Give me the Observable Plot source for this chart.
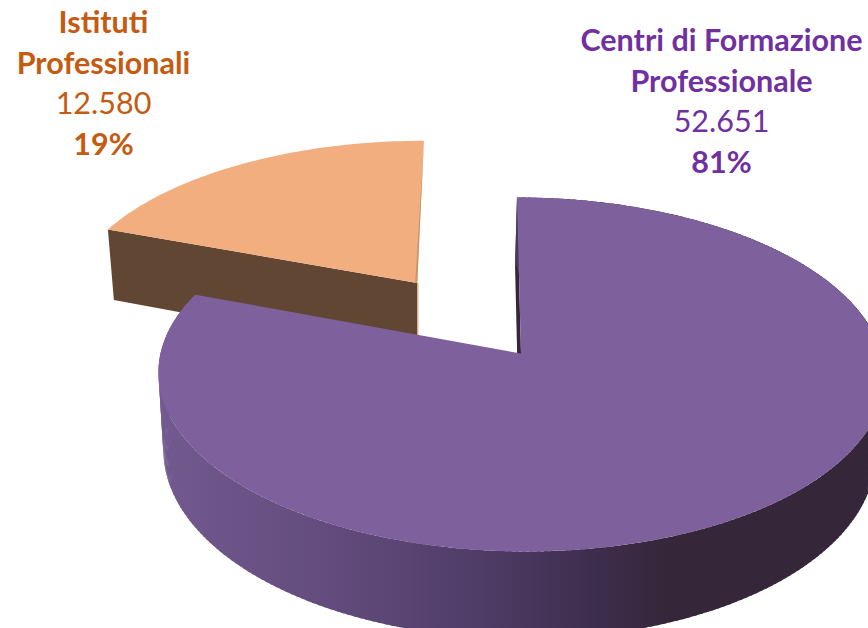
<!DOCTYPE html>
<html>
<head>
<meta charset="utf-8">
<script src="https://cdn.jsdelivr.net/npm/d3@7"></script>
<script src="https://cdn.jsdelivr.net/npm/@observablehq/plot@0.6"></script>
<style>
html,body{margin:0;padding:0;background:#fff;overflow:hidden}
svg{display:block}
</style>
</head>
<body>
<div id="chart"></div>
<script>
// DATA
const categories = ["Istituti\nProfessionali", "Centri di Formazione\nProfessionale"];
const values = [12580, 52651];
const textColors = ["#C55A11", "#7030A0"];

// LAYOUT (camera of the 3-D pie)
const W = 868, H = 628;
const cam = {cx: 520.5, cy: 353, c: 360.5, a: 174.5, b: 0.1186, skew: -4.5, depth: 77, vx: 417, vf: 0.0193};
const explode = 0.517;
const smallStretch = 1.009;
const labelPos = [{x: 103, y: 73}, {x: 721, y: 91}];
const lineStep = 40.5;
const fontSize = 30.5;

const total = d3.sum(values);
const sweep = values.map(v => v / total * 360);

// project a point of the disc (X right, Y away, unit radius); z = 0 top, 1 bottom
function project(X, Y, z = 0) {
  const w = 1 + cam.b * Y;
  const x = cam.cx + (cam.c * X + cam.skew * Y) / w;
  const y = cam.cy - cam.a * Y / w;
  return z ? {x: x + (cam.vx - x) * cam.vf, y: y + cam.depth / w} : {x, y};
}
const rad = d => d * Math.PI / 180;
const sin = d => Math.sin(rad(d)), cos = d => Math.cos(rad(d));
function rim(from, to, z) {
  const n = Math.max(2, Math.ceil(Math.abs(to - from)));
  return d3.range(n + 1).map(i => {
    const t = from + (to - from) * i / n;
    return project(sin(t), cos(t), z);
  });
}

// big slice starts at 12 o'clock, small slice fills the rest and is pulled out
const endBig = sweep[1];
const mid = endBig + sweep[0] / 2;
const ox = explode * sin(mid), oy = explode * cos(mid);
const small = (X, Y, z = 0) => project((ox + X) * smallStretch, oy + Y, z);

const bigTop = [project(0, 0), ...rim(0, endBig, 0)];
// the curved wall is a run of narrow overlapping quads, so that its silhouette is tangent to both rims
const bigSide = d3.range(0, Math.floor(endBig)).flatMap(d => {
  const e = Math.min(d + 1.5, endBig);
  return [project(sin(d), cos(d)), project(sin(e), cos(e)), project(sin(e), cos(e), 1), project(sin(d), cos(d), 1)]
    .map(p => ({...p, q: d}));
});
const bigCut = [project(0, 0), project(0, 1), project(0, 1, 1), project(0, 0, 1)];

const smallTop = [small(0, 0), ...d3.range(endBig, 360.01, 1).map(t => small(sin(t), cos(t))), small(0, 1)];
const smallWall = [small(0, 0), small(sin(endBig), cos(endBig)), small(sin(endBig), cos(endBig), 1), small(0, 0, 1)];
const nudge = (p, dx) => ({x: p.x + dx, y: p.y});
const smallEdge = [small(0, 0), small(0, 1), nudge(small(0, 0), -2)];
const smallFoot = [small(0, 0), small(0, 0, 1), nudge(small(0, 0, 1), 1.5), nudge(small(0, 0), 1.5)];

const poly = (pts, fill) => Plot.line(pts, {x: "x", y: "y", fill, stroke: "none", curve: "linear"});

const defs = () => {
  const d = d3.create("svg:defs");
  const g = d.append("linearGradient").attr("id", "side").attr("gradientUnits", "userSpaceOnUse")
    .attr("x1", 160).attr("x2", 868).attr("y1", 0).attr("y2", 0);
  [[0, "#72598F"], [0.25, "#624B7C"], [0.45, "#4F3C67"], [0.62, "#3D2D4C"], [0.72, "#352639"], [1, "#352639"]]
    .forEach(([o, c]) => g.append("stop").attr("offset", o).attr("stop-color", c));
  return d.node();
};

const labels = categories.map((name, i) => ({
  name,
  value: String(values[i]).replace(/(\d{3})$/, ".$1"),
  pct: Math.round(values[i] / total * 100) + "%",
  color: textColors[i],
  x: labelPos[i].x,
  y: labelPos[i].y
}));

const font = {fontFamily: "Lato, 'Open Sans', sans-serif", fontSize, textAnchor: "middle", lineAnchor: "bottom", lineHeight: lineStep / fontSize, fill: d => d.color, stroke: "none"};

const chart = Plot.plot({
  width: W, height: H, margin: 0,
  x: {domain: [0, W], range: [0, W], axis: null},
  y: {domain: [0, H], range: [0, H], axis: null},
  color: {type: "identity"},
  style: {background: "#fff", overflow: "hidden"},
  marks: [
    defs,
    poly(smallFoot, "#F1C5A1"),
    poly(smallWall, "#614733"),
    poly(smallTop, "#F2AE7F"),
    poly(smallEdge, "#C9946D"),
    poly(bigCut, "#352639"),
    Plot.line(bigSide, {x: "x", y: "y", z: "q", fill: "url(#side)", stroke: "none", curve: "linear"}),
    poly(bigTop, "#7E609D"),
    Plot.text(labels, {...font, x: "x", y: "y", text: "name", fontWeight: 700}),
    Plot.text(labels, {...font, x: "x", y: d => d.y + lineStep, text: "value", fontWeight: 400}),
    Plot.text(labels, {...font, x: "x", y: d => d.y + 2 * lineStep, text: "pct", fontWeight: 700})
  ]
});
document.getElementById("chart").append(chart);
</script>
</body>
</html>
